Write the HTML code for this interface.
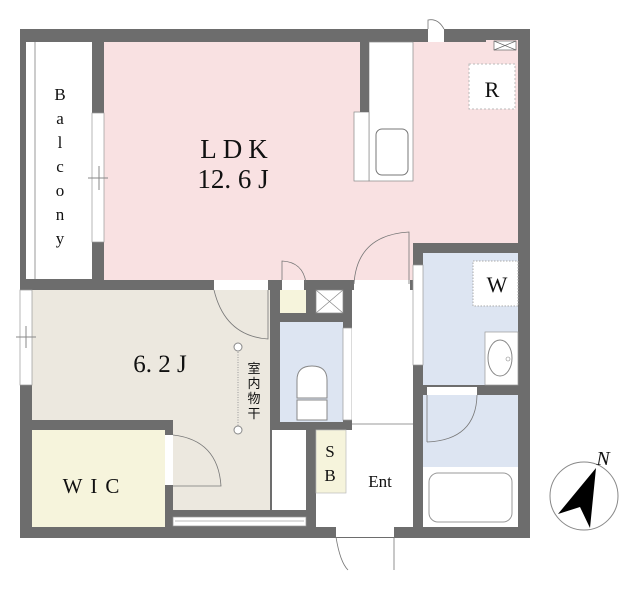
<!DOCTYPE html>
<html><head><meta charset="utf-8"><style>
html,body{margin:0;padding:0;background:#fff}
svg{display:block}
text{font-family:"Liberation Serif","Noto Serif CJK SC",serif;fill:#111}
</style></head><body>
<svg width="640" height="611" viewBox="0 0 640 611" xmlns="http://www.w3.org/2000/svg">
<rect width="640" height="611" fill="#fff"/>
<!-- walls base -->
<rect x="20" y="29" width="510" height="509" fill="#6d6d6d"/>
<!-- balcony -->
<rect x="26" y="42" width="66" height="237" fill="#fff"/>
<line x1="35" y1="42" x2="35" y2="279" stroke="#999" stroke-width="1"/>
<!-- LDK -->
<rect x="104" y="42" width="414" height="238" fill="#f9e1e2"/>
<rect x="413" y="243" width="110" height="40" fill="#6d6d6d"/>
<rect x="92" y="113" width="12" height="129" fill="#fff" stroke="#999" stroke-width="0.7"/>
<line x1="88" y1="178" x2="108" y2="178" stroke="#888"/>
<line x1="99" y1="166" x2="99" y2="190" stroke="#888"/>
<!-- kitchen -->
<rect x="369" y="42" width="44" height="139" fill="#fff" stroke="#888" stroke-width="0.7"/>
<rect x="354" y="112" width="15" height="69" fill="#fff" stroke="#888" stroke-width="0.7"/>
<rect x="360" y="42" width="9" height="70" fill="#6d6d6d"/>
<rect x="376" y="129" width="32" height="46" rx="6" fill="#fff" stroke="#777"/>
<rect x="469" y="64" width="46" height="45" fill="#fff" stroke="#bbb" stroke-dasharray="2,2"/>
<rect x="486" y="40" width="32" height="12" fill="#f9e1e2"/>
<rect x="494" y="41" width="22" height="9" fill="#fff" stroke="#666" stroke-width="0.7"/>
<path d="M494 41L516 50M494 50L516 41" stroke="#666" stroke-width="0.7"/>
<rect x="428" y="29" width="16" height="13" fill="#fff"/>
<path d="M428 29V20Q438 18 444 29" fill="none" stroke="#777" stroke-width="0.8"/>
<!-- bedroom -->
<rect x="32" y="290" width="238" height="130" fill="#ece8df"/>
<rect x="173" y="420" width="97" height="90" fill="#ece8df"/>
<rect x="20" y="290" width="12" height="95" fill="#fff" stroke="#999" stroke-width="0.7"/>
<line x1="16" y1="337" x2="36" y2="337" stroke="#888"/>
<line x1="26" y1="326" x2="26" y2="348" stroke="#888"/>
<rect x="214" y="280" width="54" height="10" fill="#fff"/>
<path d="M268 290V339Q225 336 214 290" fill="none" stroke="#777" stroke-width="0.8"/>
<!-- WIC -->
<rect x="32" y="430" width="133" height="97" fill="#f6f4dc"/>
<rect x="165" y="435" width="8" height="50" fill="#fff"/>
<path d="M173 435Q218 440 221 486H173" fill="none" stroke="#777" stroke-width="0.8"/>
<rect x="173" y="517" width="133" height="9" fill="#fff" stroke="#999" stroke-width="0.7"/>
<line x1="175" y1="521" x2="304" y2="521" stroke="#bbb"/>
<rect x="272" y="430" width="34" height="80" fill="#fff"/>
<!-- small boxes -->
<rect x="280" y="290" width="26" height="23" fill="#f6f4dc"/>
<rect x="282" y="280" width="22" height="10" fill="#fff"/>
<path d="M282 280V261Q303 262 306 283" fill="none" stroke="#777" stroke-width="0.8"/>
<rect x="316" y="290" width="27" height="23" fill="#fff" stroke="#888" stroke-width="0.7"/>
<path d="M316 290L343 313M316 313L343 290" stroke="#888" stroke-width="0.7"/>
<!-- toilet -->
<rect x="280" y="322" width="63" height="100" fill="#dde5f2"/>
<rect x="343" y="328" width="9" height="92" fill="#fff" stroke="#999" stroke-width="0.7"/>
<path d="M297 398V380Q297 366 312 366Q327 366 327 380V398Z" fill="#fff" stroke="#888"/>
<rect x="297" y="400" width="30" height="20" fill="#fff" stroke="#888"/>
<!-- hall -->
<rect x="352" y="290" width="61" height="140" fill="#fff"/>
<rect x="354" y="280" width="56" height="10" fill="#fff"/>
<path d="M354 284Q357 235 409 232V284" fill="none" stroke="#777" stroke-width="0.8"/>
<line x1="352" y1="424" x2="413" y2="424" stroke="#999"/>
<!-- Ent -->
<rect x="316" y="430" width="97" height="97" fill="#fff"/>
<rect x="316" y="430" width="30" height="63" fill="#f6f4dc" stroke="#bbb" stroke-width="0.7"/>
<rect x="336" y="527" width="58" height="10" fill="#fff"/>
<path d="M394 537V570M336 537Q340 562 348 570" fill="none" stroke="#777" stroke-width="0.8"/>
<!-- W -->
<rect x="423" y="253" width="95" height="132" fill="#dde5f2"/>
<rect x="413" y="265" width="10" height="100" fill="#fff" stroke="#999" stroke-width="0.7"/>
<rect x="473" y="261" width="45" height="45" fill="#fff" stroke="#aaa" stroke-dasharray="1.5,1.5"/>
<rect x="485" y="332" width="33" height="53" fill="#fff" stroke="#999" stroke-width="0.7"/>
<ellipse cx="500" cy="358" rx="12" ry="18" fill="#fff" stroke="#888"/>
<circle cx="508" cy="359" r="2" fill="none" stroke="#888" stroke-width="0.6"/>
<!-- bath -->
<rect x="423" y="395" width="95" height="132" fill="#dde5f2"/>
<rect x="423" y="467" width="95" height="60" fill="#fff"/>
<rect x="429" y="473" width="83" height="49" rx="9" fill="#fff" stroke="#999"/>
<rect x="427" y="387" width="50" height="8" fill="#fff"/>
<path d="M427 442V395M427 442Q476 440 477 395" fill="none" stroke="#777" stroke-width="0.8"/>
<!-- drying rod -->
<line x1="238" y1="347" x2="238" y2="430" stroke="#999" stroke-dasharray="1,1.5"/>
<circle cx="238" cy="347" r="4" fill="#fff" stroke="#888"/>
<circle cx="238" cy="430" r="4" fill="#fff" stroke="#888"/>
<!-- texts -->
<g font-size="17" text-anchor="middle">
<text x="60" y="100">B</text><text x="60" y="124">a</text><text x="60" y="148">l</text><text x="60" y="172">c</text><text x="60" y="196">o</text><text x="60" y="220">n</text><text x="60" y="244">y</text>
</g>
<text x="237" y="158" font-size="27" text-anchor="middle" letter-spacing="6">LDK</text>
<text x="233" y="188" font-size="27" text-anchor="middle">12. 6 J</text>
<text x="160" y="372" font-size="25" text-anchor="middle">6. 2 J</text>
<text x="95" y="493" font-size="21" text-anchor="middle" letter-spacing="8">WIC</text>
<text x="492" y="97" font-size="22" text-anchor="middle">R</text>
<text x="497" y="292" font-size="22" text-anchor="middle">W</text>
<text x="380" y="487" font-size="17" text-anchor="middle">Ent</text>
<text x="330" y="457" font-size="17" text-anchor="middle">S</text>
<text x="330" y="481" font-size="17" text-anchor="middle">B</text>
<g font-size="13" text-anchor="middle" font-family="'Noto Sans CJK JP',sans-serif">
<text x="254" y="373" style="font-family:'Noto Sans CJK JP',sans-serif">室</text>
<text x="254" y="388" style="font-family:'Noto Sans CJK JP',sans-serif">内</text>
<text x="254" y="403" style="font-family:'Noto Sans CJK JP',sans-serif">物</text>
<text x="254" y="418" style="font-family:'Noto Sans CJK JP',sans-serif">干</text>
</g>
<!-- compass -->
<circle cx="584" cy="496" r="34" fill="#fff" stroke="#888" stroke-width="1"/>
<path d="M596 468L590 528L580 507L558 514Z" fill="#000"/>
<text x="603" y="465" font-size="20" font-style="italic" text-anchor="middle">N</text>
</svg>
</body></html>
